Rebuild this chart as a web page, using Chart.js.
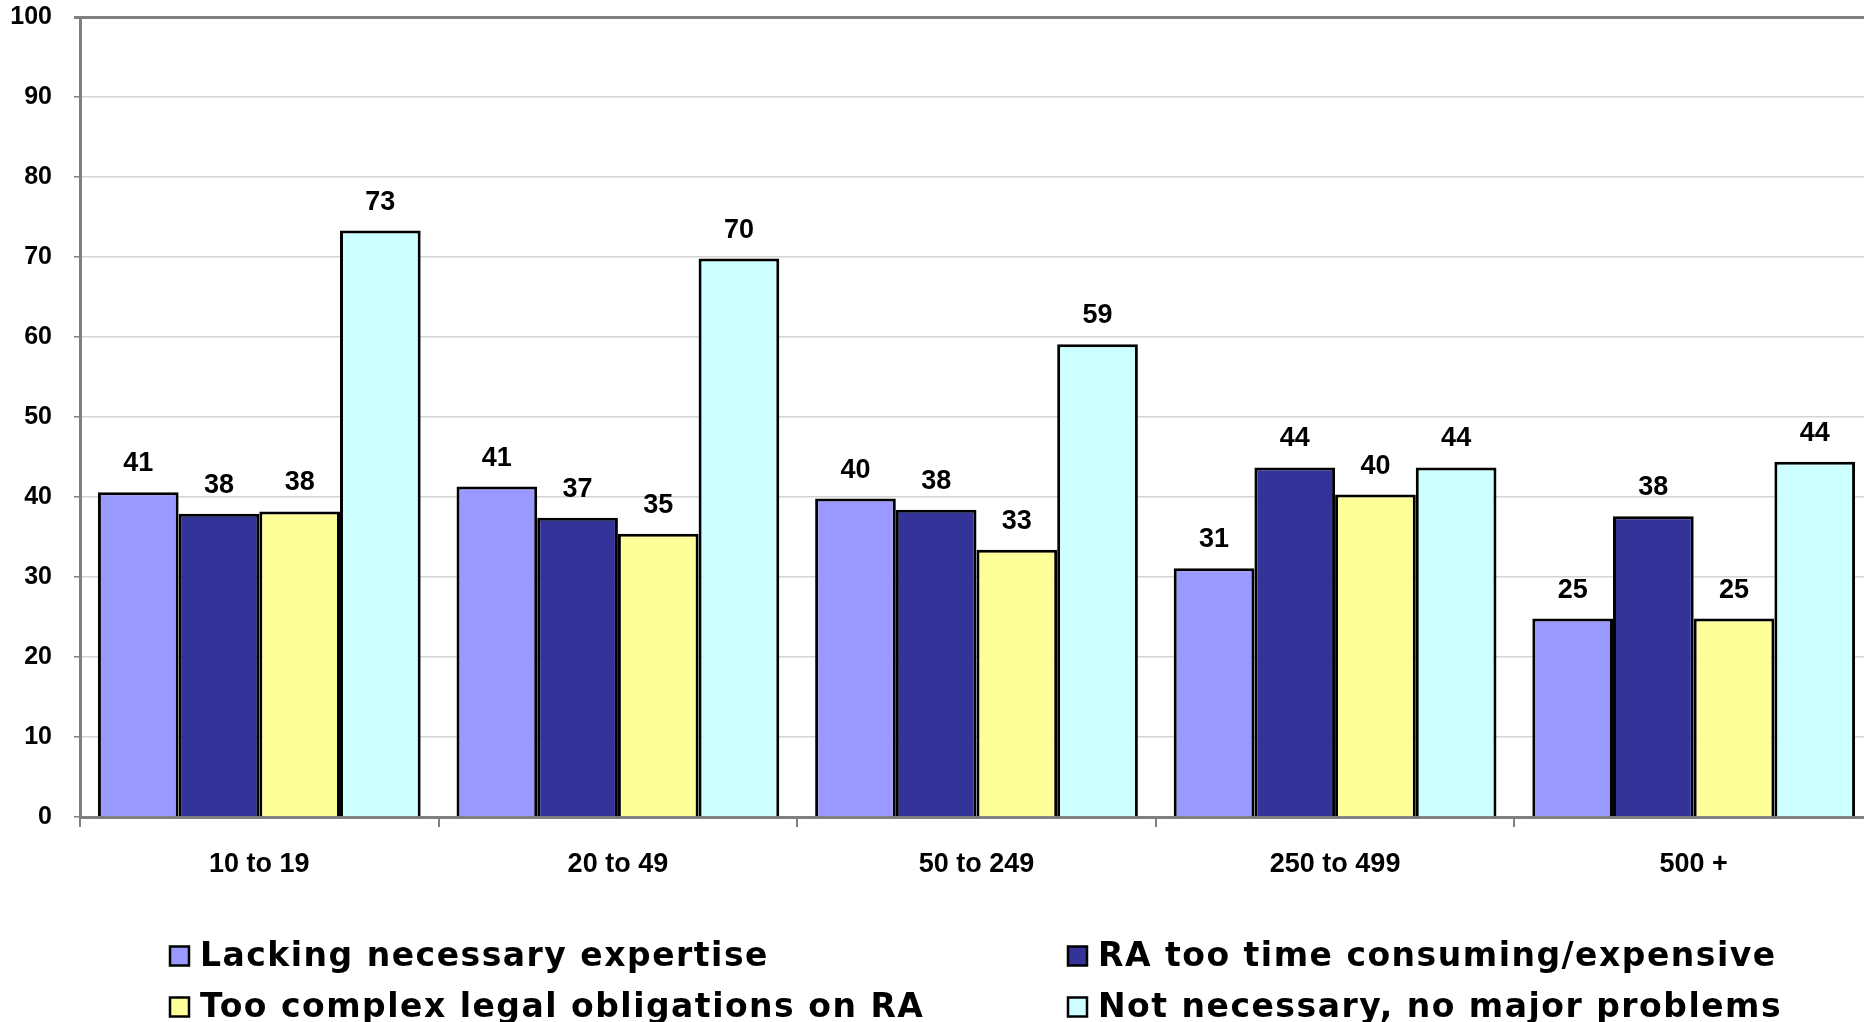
<!DOCTYPE html>
<html>
<head>
<meta charset="utf-8">
<script src="https://cdn.jsdelivr.net/npm/chart.js@4/dist/chart.umd.min.js"></script>
<style>
  html, body { margin: 0; padding: 0; background: #fff; overflow: hidden; }
  canvas { display: block; }
</style>
</head>
<body>
<canvas id="chart" width="1880" height="1022"></canvas>
<script>
// company size bands
var categories = ['10 to 19', '20 to 49', '50 to 249', '250 to 499', '500 +'];

// series values (%)
var lackingExpertise = [40.6, 41.3, 39.8, 31.1, 24.8];
var tooTimeConsuming = [37.9, 37.4, 38.4, 43.7, 37.6];
var tooComplexLegal = [38.2, 35.4, 33.4, 40.3, 24.8];
var notNecessary = [73.3, 69.8, 59.1, 43.7, 44.4];

var seriesNames = [
  'Lacking necessary expertise',
  'RA too time consuming/expensive',
  'Too complex legal obligations on RA',
  'Not necessary, no major problems'
];
var seriesColors = ['#9999FF', '#333399', '#FFFF99', '#CCFFFF'];

var yMin = 0, yMax = 100, yStep = 10;

var seriesData = [lackingExpertise, tooTimeConsuming, tooComplexLegal, notNecessary];

var datasets = seriesData.map(function (vals, i) {
  return {
    label: seriesNames[i],
    data: vals,
    backgroundColor: seriesColors[i],
    borderColor: '#000',
    borderWidth: 3,
    categoryPercentage: 0.9,
    barPercentage: 1.0
  };
});

// value labels above each bar
var valueLabels = {
  id: 'valueLabels',
  afterDatasetsDraw: function (chart) {
    var ctx = chart.ctx;
    ctx.save();
    ctx.font = 'bold 27px "Liberation Sans", Arial, sans-serif';
    ctx.fillStyle = '#000';
    ctx.textAlign = 'center';
    ctx.textBaseline = 'alphabetic';
    chart.data.datasets.forEach(function (ds, di) {
      chart.getDatasetMeta(di).data.forEach(function (bar, i) {
        ctx.fillText(String(Math.round(ds.data[i])), bar.x, bar.y - 21);
      });
    });
    ctx.restore();
  }
};

// two-column legend under the axis
var gridLegend = {
  id: 'gridLegend',
  afterDraw: function (chart) {
    var ctx = chart.ctx;
    var colX = [170, 1068];
    var rowY = [956, 1007];
    var box = 19;
    ctx.save();
    ctx.font = 'bold 33px "DejaVu Sans", Verdana, sans-serif';
    ctx.letterSpacing = '1.5px';
    ctx.textBaseline = 'middle';
    ctx.textAlign = 'left';
    seriesNames.forEach(function (name, i) {
      var x = colX[i % 2];
      var y = rowY[Math.floor(i / 2)];
      ctx.fillStyle = seriesColors[i];
      ctx.fillRect(x, y - box / 2, box, box);
      ctx.lineWidth = 2.5;
      ctx.strokeStyle = '#000';
      ctx.strokeRect(x, y - box / 2, box, box);
      ctx.fillStyle = '#000';
      ctx.fillText(name, x + 30, y + 1);
    });
    ctx.restore();
  }
};

new Chart(document.getElementById('chart').getContext('2d'), {
  type: 'bar',
  data: { labels: categories, datasets: datasets },
  plugins: [valueLabels, gridLegend],
  options: {
    responsive: false,
    animation: false,
    layout: { padding: { top: 17, right: 7, left: 0, bottom: 0 } },
    plugins: {
      legend: { display: false },
      tooltip: { enabled: false }
    },
    scales: {
      x: {
        grid: {
          drawOnChartArea: false,
          offset: true,
          tickLength: 10,
          tickColor: '#808080',
          lineWidth: 2
        },
        border: { color: '#808080', width: 3 },
        ticks: {
          color: '#000',
          padding: 21,
          font: { family: '"Liberation Sans", Arial, sans-serif', size: 27, weight: 'bold' }
        },
        afterFit: function (scale) { scale.height = 205; }
      },
      y: {
        min: yMin,
        max: yMax,
        grid: {
          color: function (c) { return c.tick && c.tick.value === yMax ? '#808080' : '#d4d4d4'; },
          lineWidth: function (c) { return c.tick && c.tick.value === yMax ? 3 : 1.5; },
          tickColor: '#808080',
          tickLength: 6
        },
        border: { color: '#808080', width: 3 },
        ticks: {
          stepSize: yStep,
          color: '#000',
          padding: 22,
          font: { family: '"Liberation Sans", Arial, sans-serif', size: 25, weight: 'bold' }
        },
        afterFit: function (scale) {
          scale.width = 80;
          scale.paddingTop = 0;
          scale.paddingBottom = 0;
        }
      }
    }
  }
});
</script>
</body>
</html>
